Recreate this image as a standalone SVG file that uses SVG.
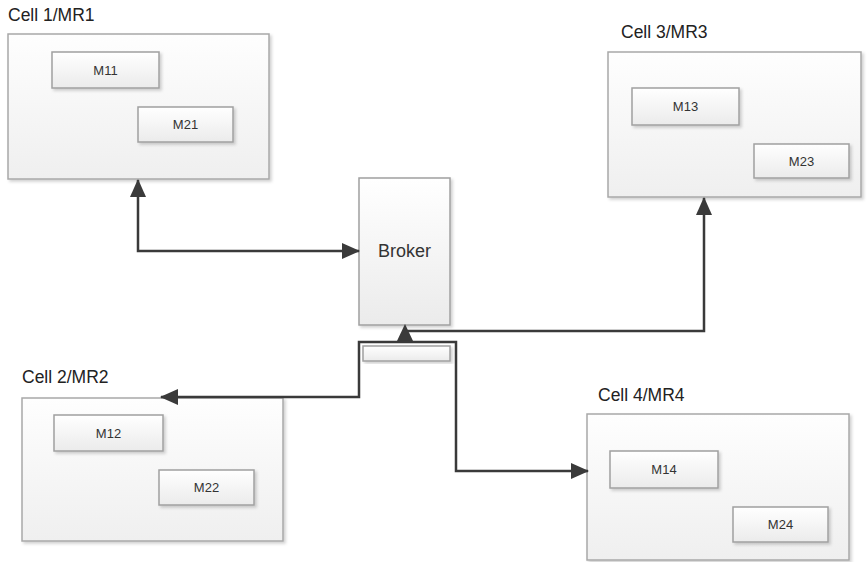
<svg xmlns="http://www.w3.org/2000/svg" width="867" height="562" viewBox="0 0 867 562">
<defs>
  <linearGradient id="gCell" x1="0" y1="0" x2="0" y2="1">
    <stop offset="0" stop-color="#fefefe"/>
    <stop offset="1" stop-color="#efefef"/>
  </linearGradient>
  <linearGradient id="gBox" x1="0" y1="0" x2="0" y2="1">
    <stop offset="0" stop-color="#ffffff"/>
    <stop offset="1" stop-color="#ebebeb"/>
  </linearGradient>
  <filter id="sh" x="-10%" y="-10%" width="130%" height="130%">
    <feDropShadow dx="2" dy="2" stdDeviation="1.5" flood-color="#000" flood-opacity="0.18"/>
  </filter>
  <marker id="arr" markerUnits="userSpaceOnUse" markerWidth="18" markerHeight="16" refX="17" refY="8" orient="auto-start-reverse" viewBox="0 0 18 16">
    <path d="M0,0 L18,8 L0,16 z" fill="#3a3a3a"/>
  </marker>
</defs>
<style>
  .cell{fill:url(#gCell);stroke:#a8a8a8;stroke-width:1.5;filter:url(#sh)}
  .box{fill:url(#gBox);stroke:#a0a0a0;stroke-width:1.5;filter:url(#sh)}
  .title{font-family:"Liberation Sans",Arial,sans-serif;font-size:17.5px;fill:#222}
  .lbl{font-family:"Liberation Sans",Arial,sans-serif;font-size:13px;fill:#333;text-anchor:middle}
  .big{font-family:"Liberation Sans",Arial,sans-serif;font-size:18px;fill:#333;text-anchor:middle}
  .conn{fill:none;stroke:#3a3a3a;stroke-width:2.5;stroke-linejoin:miter}
</style>

<g id="cell1">
  <text class="title" x="8" y="21">Cell 1/MR1</text>
  <rect class="cell" x="8" y="34" width="261" height="145"/>
  <g id="m11"><rect class="box" x="52" y="52" width="107" height="36"/><text class="lbl" x="105.5" y="75">M11</text></g>
  <g id="m21"><rect class="box" x="138" y="107" width="95" height="35"/><text class="lbl" x="185.5" y="129">M21</text></g>
</g>

<g id="cell3">
  <text class="title" x="621" y="38">Cell 3/MR3</text>
  <rect class="cell" x="608" y="52" width="253" height="145"/>
  <g id="m13"><rect class="box" x="632" y="88" width="107" height="37"/><text class="lbl" x="685.5" y="111">M13</text></g>
  <g id="m23"><rect class="box" x="754" y="144" width="95" height="34"/><text class="lbl" x="801.5" y="166">M23</text></g>
</g>

<g id="cell2">
  <text class="title" x="22" y="383">Cell 2/MR2</text>
  <rect class="cell" x="22" y="398" width="261" height="143"/>
  <g id="m12"><rect class="box" x="54" y="415" width="109" height="36"/><text class="lbl" x="108.5" y="438">M12</text></g>
  <g id="m22"><rect class="box" x="159" y="470" width="95" height="35"/><text class="lbl" x="206.5" y="492">M22</text></g>
</g>

<g id="cell4">
  <text class="title" x="598" y="401">Cell 4/MR4</text>
  <rect class="cell" x="587" y="414" width="262" height="146"/>
  <g id="m14"><rect class="box" x="610" y="451" width="108" height="37"/><text class="lbl" x="664" y="474">M14</text></g>
  <g id="m24"><rect class="box" x="733" y="507" width="95" height="35"/><text class="lbl" x="780.5" y="529">M24</text></g>
</g>

<g id="broker">
  <rect class="box" x="359" y="178" width="91" height="147"/>
  <text class="big" x="404.5" y="257">Broker</text>
</g>

<g id="port">
  <rect class="box" x="363" y="346" width="87" height="15"/>
</g>

<g id="connectors">
  <path class="conn" d="M138,180 V251 H359" marker-start="url(#arr)" marker-end="url(#arr)"/>
  <path class="conn" d="M405,331 H704 V198" marker-end="url(#arr)"/>
  <path d="M405,324 L413.5,342 L396.5,342 z" fill="#3a3a3a"/>
  <path class="conn" d="M161,397 H359 V342 H456 V471 H588" marker-start="url(#arr)" marker-end="url(#arr)"/>
</g>
</svg>
